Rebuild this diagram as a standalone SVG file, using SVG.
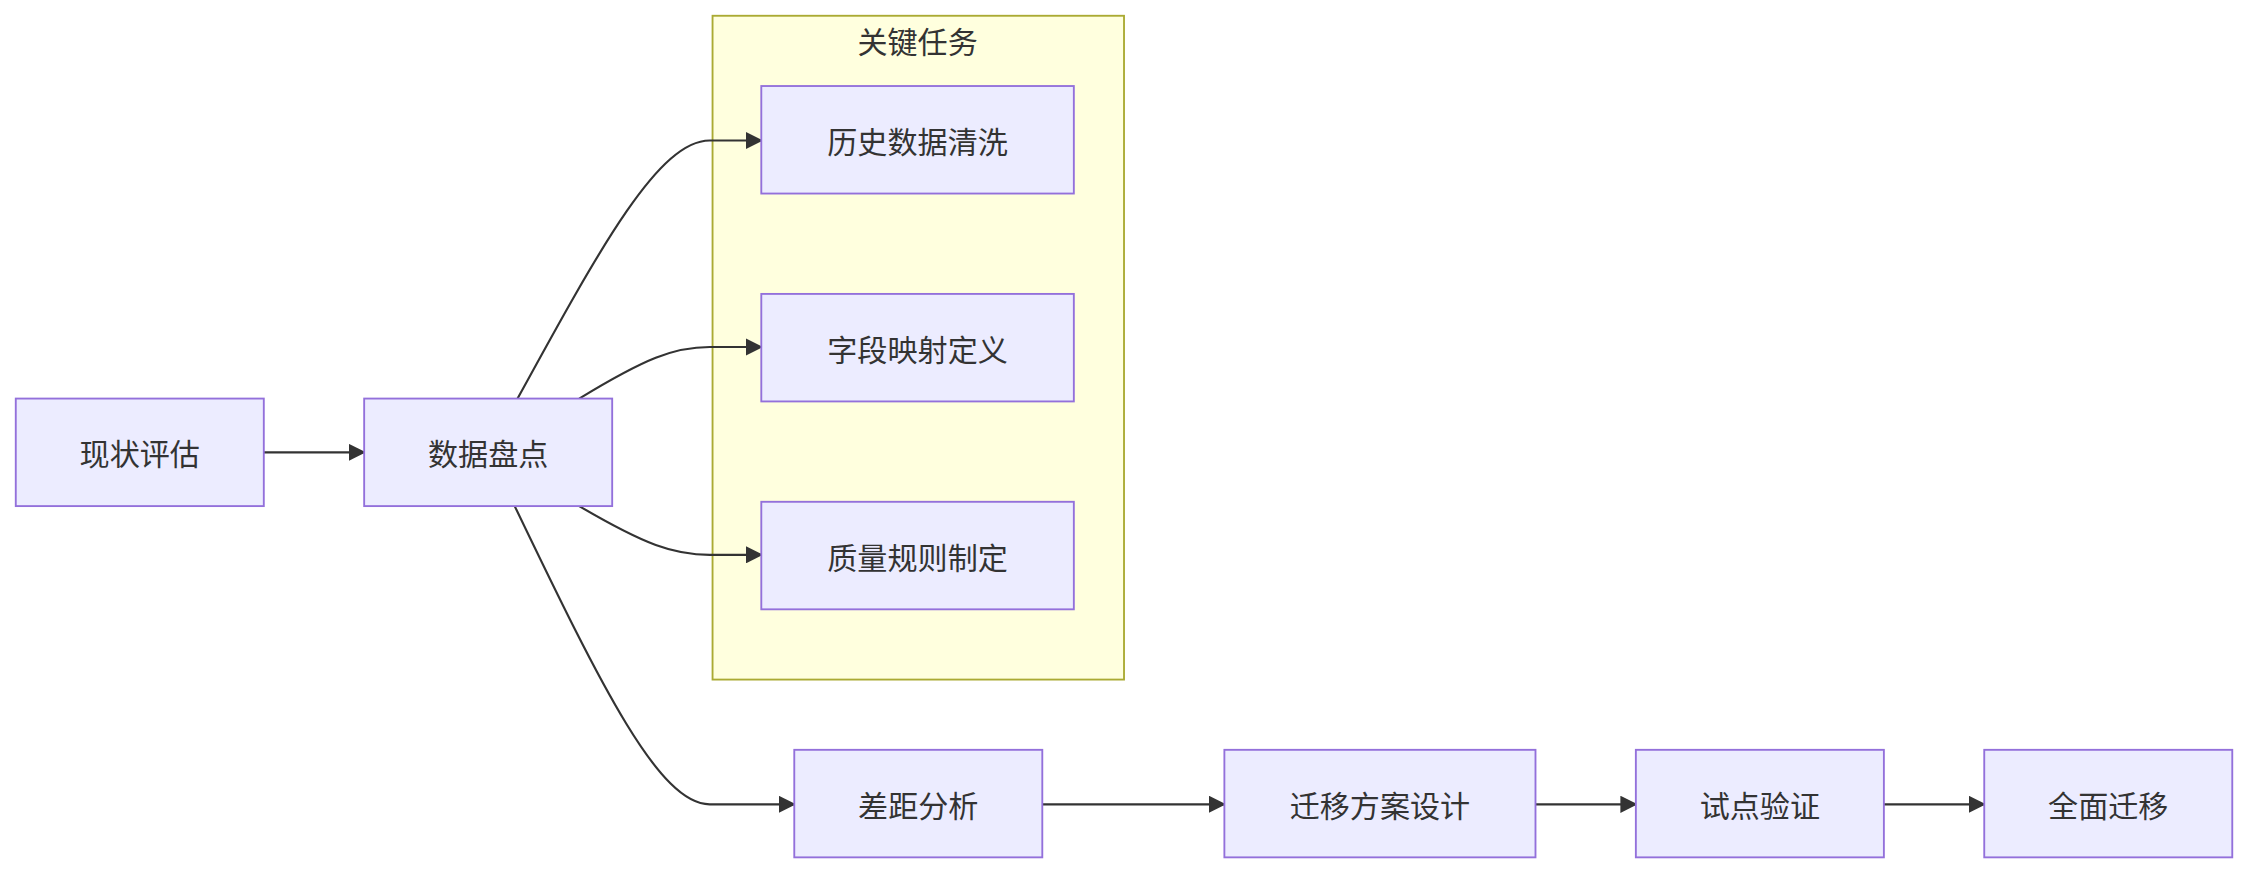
<svg xmlns="http://www.w3.org/2000/svg" width="2248" height="874" viewBox="0 0 2248 874">
<defs>
<style>
.n rect{fill:#ECECFF;stroke:#9370DB;stroke-width:1.3}
text{font-family:"Noto Sans CJK SC","Liberation Sans",sans-serif;font-size:21px;fill:#333;text-anchor:middle;dominant-baseline:central}
.e path{fill:none;stroke:#333;stroke-width:1.5;marker-end:url(#a)}
</style>
<marker id="a" viewBox="0 0 10 10" refX="9" refY="5" markerWidth="8" markerHeight="8" orient="auto"><path d="M0,0L10,5L0,10z" fill="#333"/></marker>
</defs>
<rect width="2248" height="874" fill="#fff"/>
<g transform="scale(1.4337)">
<g id="cluster"><rect x="497" y="11" width="287" height="463" fill="#ffffde" stroke="#aaaa33" stroke-width="1.3"/><text x="640" y="28">关键任务</text></g>
<g class="e">
<path d="M184,315.5L254,315.5"/>
<path d="M361,278C420,170 460,98 495,98L531,98"/>
<path d="M404,278C450,250 470,242 495,242L531,242"/>
<path d="M404,353C450,380 470,387 495,387L531,387"/>
<path d="M359,353C420,480 460,561 495,561L554,561"/>
<path d="M727,561L854,561"/>
<path d="M1071,561L1141,561"/>
<path d="M1314,561L1384,561"/>
</g>
<g id="n1" class="n"><rect x="11" y="278" width="173" height="75"/><text x="97.5" y="315.5">现状评估</text></g>
<g id="n2" class="n"><rect x="254" y="278" width="173" height="75"/><text x="340.5" y="315.5">数据盘点</text></g>
<g id="n3" class="n"><rect x="531" y="60" width="218" height="75"/><text x="640" y="97.5">历史数据清洗</text></g>
<g id="n4" class="n"><rect x="531" y="205" width="218" height="75"/><text x="640" y="242.5">字段映射定义</text></g>
<g id="n5" class="n"><rect x="531" y="350" width="218" height="75"/><text x="640" y="387.5">质量规则制定</text></g>
<g id="n6" class="n"><rect x="554" y="523" width="173" height="75"/><text x="640.5" y="560.5">差距分析</text></g>
<g id="n7" class="n"><rect x="854" y="523" width="217" height="75"/><text x="962.5" y="560.5">迁移方案设计</text></g>
<g id="n8" class="n"><rect x="1141" y="523" width="173" height="75"/><text x="1227.5" y="560.5">试点验证</text></g>
<g id="n9" class="n"><rect x="1384" y="523" width="173" height="75"/><text x="1470.5" y="560.5">全面迁移</text></g>
</g>
</svg>
